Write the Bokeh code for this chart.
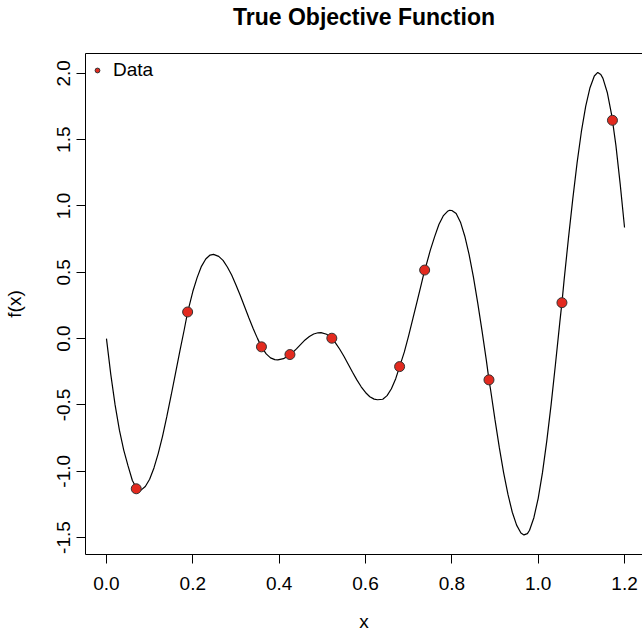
from bokeh.plotting import figure
from bokeh.models import (Range1d, FixedTicker, PrintfTickFormatter,
                          Legend, LegendItem, LinearAxis)
from bokeh.embed import file_html
from bokeh.resources import INLINE

TITLE = "True Objective Function"

# Curve of the true objective function
curve_x = [0.000, 0.010, 0.020, 0.030, 0.040, 0.050, 0.060, 0.070, 0.077, 0.080,
           0.090, 0.100, 0.110, 0.120, 0.130, 0.140, 0.150, 0.160, 0.170, 0.180,
           0.188, 0.190, 0.200, 0.210, 0.220, 0.230, 0.240, 0.248, 0.260, 0.270,
           0.280, 0.290, 0.300, 0.310, 0.320, 0.330, 0.340, 0.350, 0.359, 0.370,
           0.380, 0.390, 0.397, 0.410, 0.420, 0.425, 0.430, 0.440, 0.450, 0.460,
           0.470, 0.480, 0.490, 0.497, 0.510, 0.520, 0.530, 0.540, 0.550, 0.560,
           0.570, 0.580, 0.590, 0.600, 0.610, 0.620, 0.628, 0.640, 0.650, 0.660,
           0.670, 0.679, 0.690, 0.700, 0.710, 0.720, 0.730, 0.737, 0.740, 0.750,
           0.760, 0.770, 0.780, 0.790, 0.795, 0.800, 0.810, 0.820, 0.830, 0.840,
           0.850, 0.860, 0.870, 0.880, 0.886, 0.890, 0.900, 0.910, 0.920, 0.930,
           0.940, 0.950, 0.960, 0.967, 0.975, 0.980, 0.990, 1.000, 1.010, 1.020,
           1.030, 1.040, 1.050, 1.055, 1.060, 1.070, 1.080, 1.090, 1.100, 1.110,
           1.120, 1.130, 1.138, 1.145, 1.150, 1.160, 1.170, 1.172, 1.180, 1.190,
           1.200]
curve_y = [0.000, -0.270, -0.500, -0.690, -0.840, -0.960, -1.070, -1.130, -1.144, -1.142,
           -1.115, -1.060, -0.975, -0.865, -0.735, -0.585, -0.425, -0.260, -0.095, 0.065,
           0.200, 0.225, 0.355, 0.460, 0.545, 0.600, 0.630, 0.635, 0.620, 0.590,
           0.540, 0.480, 0.405, 0.325, 0.240, 0.155, 0.075, 0.000, -0.062, -0.115,
           -0.145, -0.158, -0.160, -0.151, -0.132, -0.120, -0.108, -0.077, -0.043, -0.010,
           0.016, 0.035, 0.044, 0.045, 0.033, 0.007, -0.030, -0.078, -0.133, -0.193,
           -0.253, -0.311, -0.363, -0.406, -0.438, -0.456, -0.461, -0.457, -0.430, -0.378,
           -0.302, -0.211, -0.100, 0.023, 0.154, 0.287, 0.420, 0.517, 0.547, 0.665,
           0.767, 0.860, 0.925, 0.960, 0.968, 0.966, 0.943, 0.878, 0.772, 0.633,
           0.464, 0.268, 0.057, -0.166, -0.311, -0.391, -0.613, -0.822, -1.012, -1.175,
           -1.309, -1.406, -1.465, -1.480, -1.470, -1.445, -1.350, -1.204, -1.009, -0.769,
           -0.496, -0.193, 0.121, 0.271, 0.441, 0.754, 1.050, 1.323, 1.560, 1.751,
           1.892, 1.980, 2.007, 1.992, 1.962, 1.856, 1.688, 1.646, 1.457, 1.163,
           0.838]

# Observed data points
data_x = [0.069, 0.188, 0.359, 0.425, 0.522, 0.679, 0.737, 0.886, 1.055, 1.172]
data_y = [-1.132, 0.201, -0.062, -0.120, 0.003, -0.211, 0.517, -0.311, 0.271, 1.646]

x_ticks = [0.0, 0.2, 0.4, 0.6, 0.8, 1.0, 1.2]
y_ticks = [-1.5, -1.0, -0.5, 0.0, 0.5, 1.0, 1.5, 2.0]

FONT = "Liberation Sans"

p = figure(width=642, height=634, output_backend="svg", toolbar_location=None,
           x_range=Range1d(-0.04855, 1.2416), y_range=Range1d(-1.6276, 2.1497),
           min_border_left=84, min_border_right=0, min_border_top=53, min_border_bottom=79)
p.outline_line_color = None
p.grid.visible = False
p.background_fill_color = "white"

for ax in (p.xaxis[0], p.yaxis[0]):
    ax.axis_line_color = "black"
    ax.axis_line_width = 1
    ax.major_tick_line_color = "black"
    ax.major_tick_in = 0
    ax.major_tick_out = 9
    ax.minor_tick_line_color = None
    ax.major_label_text_font = FONT
    ax.major_label_text_font_size = "19px"
    ax.major_label_text_color = "black"
    ax.axis_label_text_font = FONT
    ax.axis_label_text_font_size = "19px"
    ax.axis_label_text_font_style = "normal"
    ax.axis_label_text_color = "black"
    ax.formatter = PrintfTickFormatter(format="%.1f")

p.xaxis[0].ticker = FixedTicker(ticks=x_ticks)
p.yaxis[0].ticker = FixedTicker(ticks=y_ticks)
p.xaxis[0].axis_label = "x"
p.yaxis[0].axis_label = "f(x)"
p.yaxis[0].major_label_orientation = "vertical"
p.xaxis[0].major_label_standoff = 13
p.yaxis[0].major_label_standoff = 6
p.xaxis[0].axis_label_standoff = 18
p.yaxis[0].axis_label_standoff = 30

# top edge of the box, carrying the chart title
top = LinearAxis(ticker=FixedTicker(ticks=[]), axis_line_color="black",
                 major_tick_line_color=None, minor_tick_line_color=None,
                 major_tick_out=0, minor_tick_out=0,
                 axis_label=TITLE, axis_label_standoff=24,
                 axis_label_text_font=FONT, axis_label_text_font_size="23px",
                 axis_label_text_font_style="bold", axis_label_text_color="black")
p.add_layout(top, "above")

p.line(curve_x, curve_y, line_color="black", line_width=1.2)
pts = p.scatter(data_x, data_y, size=10, fill_color="#e32a1f", line_color="#333333",
                line_width=1)

legend = Legend(items=[LegendItem(label="Data", renderers=[pts])],
                location="top_left", margin=6, padding=7, glyph_width=12, glyph_height=20,
                label_standoff=10, border_line_color=None, background_fill_alpha=0,
                label_text_font=FONT, label_text_font_size="19px", label_text_color="black")
p.add_layout(legend)

open("out.html", "w").write(file_html(p, INLINE))
